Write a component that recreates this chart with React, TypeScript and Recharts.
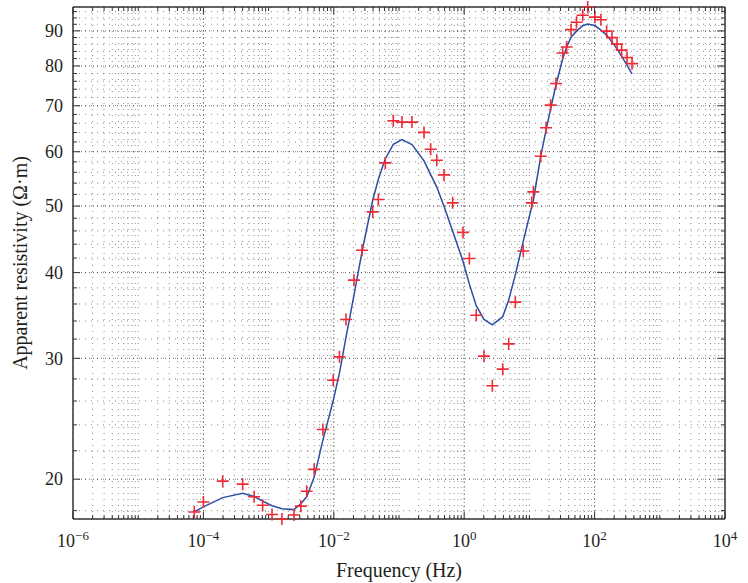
import React from "react";
import { ComposedChart, Line, Scatter, XAxis, YAxis, CartesianGrid, ReferenceLine } from "recharts";

// frequencies (Hz) of the sounding points
const frequency = [
  7.25e-5, 1.0e-4, 1.98e-4, 4.0e-4, 6.0e-4, 8.1e-4, 1.13e-3, 1.6e-3, 2.45e-3, 3.12e-3,
  3.84e-3, 5.0e-3, 6.8e-3, 9.8e-3, 0.0122, 0.0154, 0.0204, 0.0271, 0.0395, 0.0482,
  0.0617, 0.0818, 0.111, 0.158, 0.242, 0.306, 0.379, 0.49, 0.666, 0.959,
  1.2, 1.53, 2.01, 2.7, 3.9, 4.81, 6.08, 8.06, 10.85, 11.5,
  14.9, 18.0, 21.2, 25.6, 32.4, 37.3, 43.5, 52.8, 65.7, 78.4,
  101, 125, 153, 185, 221, 260, 314, 375,
];

// measured apparent resistivity (red crosses)
const observed = [
  17.92, 18.53, 19.87, 19.67, 18.86, 18.33, 17.77, 17.5, 17.74, 18.27,
  19.21, 20.67, 23.63, 27.88, 30.15, 34.18, 39.0, 43.12, 49.03, 51.11,
  57.79, 66.56, 66.27, 66.27, 64.02, 60.5, 58.31, 55.51, 50.54, 45.77,
  41.94, 34.67, 30.22, 27.37, 28.93, 31.49, 36.22, 43.01, 50.54, 52.44,
  59.1, 65.02, 70.15, 75.43, 83.56, 85.27, 90.36, 92.66, 94.86, 97.5,
  94.23, 93.44, 89.91, 87.97, 86.07, 84.37, 82.29, 80.63,
];

// fitted model response (blue line)
const model = [
  17.92, 18.23, 18.8, 19.07, 18.87, 18.58, 18.3, 18.11, 18.06, 18.42,
  18.85, 20.14, 22.8, 26.03, 28.54, 32.21, 37.09, 42.91, 50.99, 54.71,
  58.61, 61.52, 62.49, 61.44, 58.18, 55.55, 53.33, 49.98, 45.96, 41.55,
  38.48, 35.8, 34.18, 33.56, 34.5, 36.47, 39.7, 44.45, 49.89, 50.99,
  59.01, 64.51, 69.33, 75.12, 81.95, 85.27, 88.13, 89.91, 91.55, 92.07,
  91.62, 90.24, 88.72, 86.67, 84.72, 82.59, 80.24, 77.89,
];

const xMajorTicks = [1e-6, 1e-4, 1e-2, 1, 1e2, 1e4];
const xTickExponents = ["−6", "−4", "−2", "0", "2", "4"];
const yMajorTicks = [20, 30, 40, 50, 60, 70, 80, 90];

// log minor ticks 1..9 x 10^n, and every 2 ohm-m on y
const xTicks: number[] = [];
for (let e = -6; e < 4; e++) for (let k = 1; k <= 9; k++) xTicks.push(k * Math.pow(10, e));
xTicks.push(1e4);
const yTicks: number[] = [];
for (let v = 18; v <= 96; v += 2) yTicks.push(v);

const data = frequency.map((f, i) => ({ freq: f, observed: observed[i], model: model[i] }));

const FONT = "'Liberation Serif', 'DejaVu Serif', serif";
const TEXT = "#231f20";
const AXIS = "#333";

const majorIndex = (v: number) =>
  xMajorTicks.findIndex((t) => Math.abs(Math.log10(v / t)) < 1e-6);

const BottomTick = ({ x, y, payload }: any) => {
  const idx = majorIndex(payload.value);
  const major = idx >= 0;
  return (
    <g>
      <line x1={x} y1={y} x2={x} y2={y - (major ? 7 : 4)} stroke={AXIS} strokeWidth={1} />
      {major && (
        <text x={x} y={y + 28} textAnchor="middle" fontSize={18} fontFamily={FONT} fill={TEXT}>
          <tspan>10</tspan>
          <tspan dy={-7} fontSize={13}>{xTickExponents[idx]}</tspan>
        </text>
      )}
    </g>
  );
};

const TopTick = ({ x, y, payload }: any) => {
  const major = majorIndex(payload.value) >= 0;
  return <line x1={x} y1={y} x2={x} y2={y + (major ? 7 : 4)} stroke={AXIS} strokeWidth={1} />;
};

const LeftTick = ({ x, y, payload }: any) => {
  const major = payload.value % 10 === 0;
  return (
    <g>
      <line x1={x} y1={y} x2={x + (major ? 7 : 4)} y2={y} stroke={AXIS} strokeWidth={1} />
      {major && (
        <text x={x - 10} y={y} dy="0.35em" textAnchor="end" fontSize={18} fontFamily={FONT} fill={TEXT}>
          {payload.value}
        </text>
      )}
    </g>
  );
};

const RightTick = ({ x, y, payload }: any) => {
  const major = payload.value % 10 === 0;
  return <line x1={x} y1={y} x2={x - (major ? 7 : 4)} y2={y} stroke={AXIS} strokeWidth={1} />;
};

const YTitle = (props: any) => {
  const vb = props.viewBox || { y: 7, height: 512 };
  const cx = 27;
  const cy = vb.y + vb.height / 2;
  return (
    <text x={cx} y={cy} transform={`rotate(-90 ${cx} ${cy})`} textAnchor="middle" fontSize={20} fontFamily={FONT} fill={TEXT}>
      Apparent resistivity (Ω·m)
    </text>
  );
};

const Plus = (props: any) => {
  const { cx, cy } = props;
  if (cx == null || cy == null) return <g />;
  const r = 6;
  return (
    <path
      d={`M${cx - r},${cy}H${cx + r}M${cx},${cy - r}V${cy + r}`}
      stroke="#ee2a35"
      strokeWidth={1.6}
      fill="none"
    />
  );
};

const axisLine = { stroke: AXIS, strokeWidth: 1.5 };

export default function App() {
  return (
    <div style={{ position: "fixed", left: 0, top: 0, width: 748, height: 583, background: "#fff" }}>
      <ComposedChart width={748} height={583} data={data} margin={{ top: 0, right: 0, bottom: 0, left: 0 }}>
        <CartesianGrid stroke="#000" strokeOpacity={0.45} strokeDasharray="1 5" />
        {xMajorTicks.slice(1, -1).map((v) => (
          <ReferenceLine key={`x${v}`} x={v} stroke="#000" strokeOpacity={0.6} strokeDasharray="1 3" />
        ))}
        {yMajorTicks.map((v) => (
          <ReferenceLine key={`y${v}`} y={v} stroke="#000" strokeOpacity={0.6} strokeDasharray="1 3" />
        ))}
        <XAxis
          dataKey="freq"
          type="number"
          scale="log"
          domain={[1e-6, 1e4]}
          ticks={xTicks}
          interval={0}
          height={64}
          tickLine={false}
          tickSize={0}
          tickMargin={0}
          axisLine={axisLine}
          tick={BottomTick}
          label={{ value: "Frequency (Hz)", position: "insideBottom", offset: 6, fontSize: 20, fill: TEXT, fontFamily: FONT }}
        />
        <XAxis
          xAxisId="top"
          orientation="top"
          dataKey="freq"
          type="number"
          scale="log"
          domain={[1e-6, 1e4]}
          ticks={xTicks}
          interval={0}
          height={7}
          tickLine={false}
          tickSize={0}
          tickMargin={0}
          axisLine={axisLine}
          tick={TopTick}
        />
        <YAxis
          type="number"
          scale="log"
          domain={[17.5, 97.5]}
          ticks={yTicks}
          interval={0}
          width={73}
          tickLine={false}
          tickSize={0}
          tickMargin={0}
          axisLine={axisLine}
          tick={LeftTick}
          label={<YTitle />}
        />
        <YAxis
          yAxisId="right"
          orientation="right"
          type="number"
          scale="log"
          domain={[17.5, 97.5]}
          ticks={yTicks}
          interval={0}
          width={23}
          tickLine={false}
          tickSize={0}
          tickMargin={0}
          axisLine={axisLine}
          tick={RightTick}
        />
        <Line
          xAxisId="top"
          yAxisId="right"
          dataKey="model"
          type="linear"
          stroke="#2b4ea2"
          strokeWidth={1.5}
          dot={false}
          activeDot={false}
          isAnimationActive={false}
        />
        <Scatter dataKey="observed" shape={Plus} isAnimationActive={false} />
      </ComposedChart>
    </div>
  );
}
